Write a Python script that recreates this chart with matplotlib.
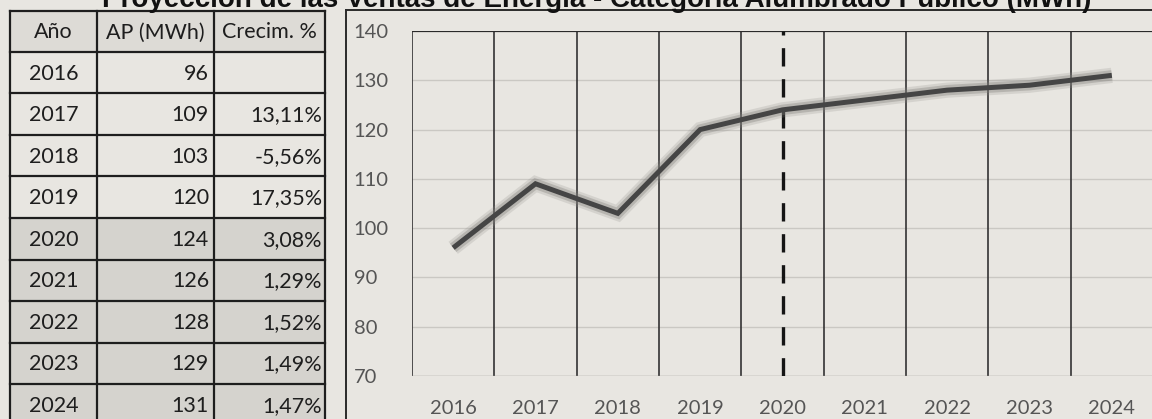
import matplotlib
matplotlib.use("Agg")
import matplotlib.pyplot as plt
import matplotlib.patheffects as pe
from matplotlib.patches import Rectangle

# ---- data ----
years = ["2016", "2017", "2018", "2019", "2020", "2021", "2022", "2023", "2024"]
ap_mwh = [96, 109, 103, 120, 124, 126, 128, 129, 131]
crecim = ["", "13,11%", "-5,56%", "17,35%", "3,08%", "1,29%", "1,52%", "1,49%", "1,47%"]
headers = ["Año", "AP (MWh)", "Crecim. %"]
title = "Proyección de las Ventas de Energía - Categoría Alumbrado Público (MWh)"
y_ticks = [70, 80, 90, 100, 110, 120, 130, 140]
split_year = "2020"

W, H = 1152, 419
BG = "#e8e6e1"
SHADE = "#d5d3ce"
HEAD = "#dddbd6"
TXT = "#1e1e1e"
TICK = "#555555"
BODY_FONT = ["Lato", "DejaVu Sans"]

fig = plt.figure(figsize=(W / 100, H / 100), dpi=100, facecolor=BG)

# background overlay in pixel coordinates
bg = fig.add_axes([0, 0, 1, 1])
bg.set_xlim(0, W)
bg.set_ylim(H, 0)
bg.axis("off")
bg.set_zorder(0)

# title (its upper part runs off the top edge, as in the scan)
bg.text(597, 7, title, ha="center", va="baseline", fontsize=20,
        fontweight="bold", family=["Liberation Sans", "DejaVu Sans"], color="#111111")

# ---- table ----
col_x = [10, 97, 214, 325]
row_top = 11
head_h = 41
row_h = 41.5
n = len(years)
bg.add_patch(Rectangle((col_x[0], row_top), col_x[-1] - col_x[0], head_h,
                       facecolor=HEAD, edgecolor="none", zorder=1))
for i, y in enumerate(years):
    top = row_top + head_h + i * row_h
    if int(y) >= int(split_year):
        bg.add_patch(Rectangle((col_x[0], top), col_x[-1] - col_x[0], row_h,
                               facecolor=SHADE, edgecolor="none", zorder=1))
bottom = row_top + head_h + n * row_h
for cx in col_x:
    bg.plot([cx, cx], [row_top, bottom], color="#1e1e1e", lw=1.6, zorder=2)
bg.plot([col_x[0], col_x[-1]], [row_top, row_top], color="#1e1e1e", lw=1.6, zorder=2)
for i in range(n + 1):
    yy = row_top + head_h + i * row_h
    bg.plot([col_x[0], col_x[-1]], [yy, yy], color="#1e1e1e", lw=1.6, zorder=2)
for j, h in enumerate(headers):
    bg.text((col_x[j] + col_x[j + 1]) / 2, row_top + head_h / 2 + 1, h,
            ha="center", va="center", fontsize=15.5, family=BODY_FONT, color=TXT, zorder=3)
for i, y in enumerate(years):
    cy = row_top + head_h + i * row_h + row_h / 2 + 1
    bg.text((col_x[0] + col_x[1]) / 2, cy, y, ha="center", va="center",
            fontsize=15.5, family=BODY_FONT, color=TXT, zorder=3)
    bg.text(col_x[2] - 5, cy, str(ap_mwh[i]), ha="right", va="center",
            fontsize=15.5, family=BODY_FONT, color=TXT, zorder=3)
    if crecim[i]:
        bg.text(col_x[3] - 3, cy, crecim[i], ha="right", va="center",
                fontsize=15.5, family=BODY_FONT, color=TXT, zorder=3)

# chart outer box
bg.plot([346, 346], [10, H], color="#2a2a2a", lw=1.4, zorder=2)
bg.plot([346, W], [10, 10], color="#2a2a2a", lw=1.4, zorder=2)

# ---- chart ----
left_px, right_px, top_px, bot_px = 412, 1153, 31, 376
ax = fig.add_axes([left_px / W, (H - bot_px) / H, (right_px - left_px) / W,
                   (bot_px - top_px) / H])
ax.set_zorder(2)
ax.patch.set_alpha(0)
xs = list(range(n))
ax.set_xlim(-0.5, n - 0.5)
ax.set_ylim(y_ticks[0], y_ticks[-1])

for v in y_ticks[1:-1]:
    ax.axhline(v, color="#cac8c3", lw=1.0, zorder=1)
for k in range(n):
    ax.axvline(k - 0.5, color="#333333", lw=1.2, zorder=1)

for s in ["left", "right", "bottom", "top"]:
    ax.spines[s].set_visible(False)
ax.axhline(y_ticks[-1], color="#2a2a2a", lw=1.6, zorder=2)
ax.axhline(y_ticks[0], color="#9a9894", lw=1.0, zorder=2)

ax.axvline(years.index(split_year), color="#151515", lw=2.4,
           dashes=(5.5, 3.8), zorder=3)

ax.plot(xs, ap_mwh, color="#454545", lw=3.6, solid_joinstyle="miter",
        solid_capstyle="butt", zorder=4,
        path_effects=[pe.Stroke(linewidth=11, foreground="#8f8d89", alpha=0.22),
                      pe.Stroke(linewidth=7.5, foreground="#7f7d79", alpha=0.35),
                      pe.Normal()])

ax.set_xticks(xs)
ax.set_xticklabels(years, family=BODY_FONT, fontsize=14.5, color=TICK)
ax.set_yticks(y_ticks)
ax.set_yticklabels([str(v) for v in y_ticks], family=BODY_FONT, fontsize=14.5,
                   color=TICK, ha="left")
ax.tick_params(axis="both", length=0)
ax.tick_params(axis="y", pad=42)
ax.tick_params(axis="x", pad=17)

fig.savefig("out.png", dpi=100, facecolor=BG)
